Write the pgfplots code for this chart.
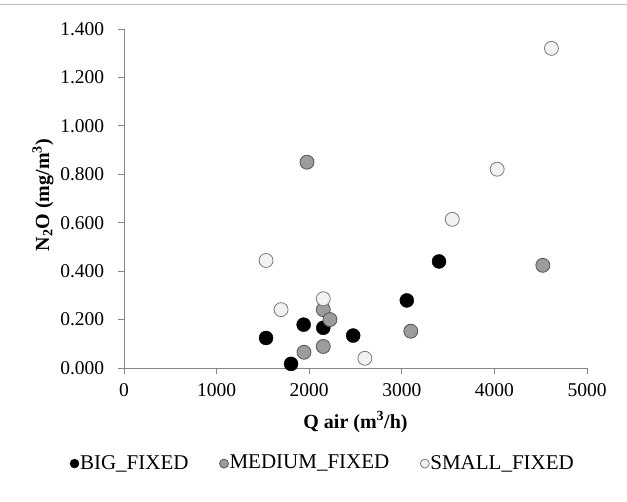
\documentclass[border=0pt]{standalone}
\usepackage{pgfplots}
\pgfplotsset{compat=1.18}
\usepackage{fontspec}
\setmainfont{Liberation Serif}
\definecolor{axgray}{HTML}{868686}
\definecolor{medfill}{HTML}{9C9C9C}
\definecolor{mededge}{HTML}{555555}
\definecolor{smallfill}{HTML}{F2F2F2}
\definecolor{smalledge}{HTML}{7A7A7A}
\begin{document}
\fontsize{20}{23}\selectfont
\begin{tikzpicture}
\useasboundingbox (0pt,0pt) rectangle (627pt,502pt);
\draw[gray!50, line width=1pt] (0pt,497pt) -- (627pt,497pt);
\begin{axis}[
  at={(124pt,134pt)}, anchor=south west,
  scale only axis, width=463pt, height=339pt,
  xmin=0, xmax=5000, ymin=0, ymax=1.4,
  xtick={0,1000,2000,3000,4000,5000},
  ytick={0,0.2,0.4,0.6,0.8,1.0,1.2,1.4},
  axis x line*=bottom, axis y line*=left,
  axis line style={axgray, line width=0.8pt, -},
  tick style={axgray, line width=0.8pt},
  tick align=outside, major tick length=6pt,
  /pgf/number format/assume math mode=true,
  /pgf/number format/1000 sep={},
  y tick label style={/pgf/number format/fixed, /pgf/number format/zerofill, /pgf/number format/precision=3},
  scaled y ticks=false,
  ticklabel style={font=\fontsize{19.5}{22}\selectfont},
  xticklabel style={yshift=-3pt},
  yticklabel style={xshift=-7pt},
  xlabel={\textbf{Q air (m\textsuperscript{3}/h)}},
  ylabel={\textbf{N\textsubscript{2}O (mg/m\textsuperscript{3})}},
  xlabel style={at={(axis description cs:0.5,-0.159)}, anchor=center, font=\fontsize{20}{23}\selectfont},
  ylabel style={at={(axis description cs:-0.175,0.51)}, anchor=center, font=\fontsize{20}{23}\selectfont},
  legend columns=3,
  legend style={at={(axis description cs:-0.117,-0.282)}, anchor=west, draw=none, fill=none,
    font=\fontsize{21}{24}\selectfont, inner sep=0pt,
    nodes={inner xsep=1pt},
    /tikz/every even column/.append style={column sep=30pt}},
  legend cell align=left,
  legend image code/.code={\draw[#1, mark size=4.5pt] plot coordinates {(0pt,0pt)};},
  clip=false,
]
\addplot[only marks, mark=*, mark size=7pt, mark options={fill=black, draw=black}]
  coordinates {(1534,0.124) (1804,0.017) (1940,0.179) (2152,0.166) (2475,0.134) (3054,0.279) (3402,0.440)};
\addlegendentry{BIG\_FIXED}
\addplot[only marks, mark=*, mark size=7pt, mark options={fill=medfill, draw=mededge, line width=0.8pt}]
  coordinates {(1944,0.065) (2152,0.241) (2224,0.200) (2152,0.089) (3097,0.152) (1976,0.850) (4523,0.424)};
\addlegendentry{MEDIUM\_FIXED}
\addplot[only marks, mark=*, mark size=7pt, mark options={fill=smallfill, draw=smalledge, line width=0.8pt}]
  coordinates {(1534,0.444) (1696,0.241) (2152,0.286) (2601,0.040) (3545,0.614) (4030,0.821) (4616,1.320)};
\addlegendentry{SMALL\_FIXED}
\end{axis}
\end{tikzpicture}
\end{document}
